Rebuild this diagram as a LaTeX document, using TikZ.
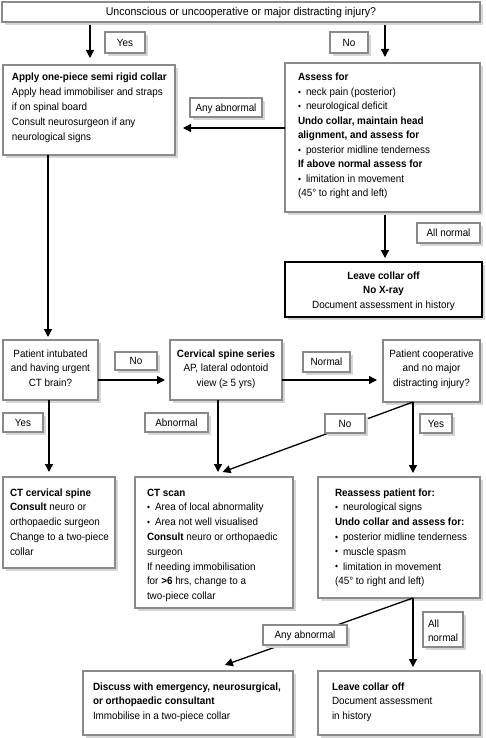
\documentclass[tikz,border=0pt]{standalone}
\usepackage{fontspec}
\setmainfont{Liberation Sans}[FakeStretch=0.94]
\usetikzlibrary{arrows.meta,shadows}
\definecolor{bordergray}{HTML}{8A8A8A}
\definecolor{shadowgray}{HTML}{D6D6D6}
\newcommand\lbox[5]{\begin{minipage}[c][#2][t]{#1}\raggedright\leftskip=#3\relax\rule{0pt}{#4}#5\end{minipage}}
\newcommand\cbox[4]{\begin{minipage}[c][#2][t]{#1}\centering\rule{0pt}{#3}#4\end{minipage}}
\newcommand\bul{\makebox[8pt][l]{\small\raisebox{0.3pt}{•}}}
\begin{document}
\begin{tikzpicture}[x=1pt,y=-1pt,
  every node/.style={font=\fontsize{10.5}{14.8}\selectfont},
  shd/.style={general shadow={fill=shadowgray, shadow xshift=3pt, shadow yshift=-3pt}},
  fbox/.style={draw=bordergray, line width=1.3pt, fill=white, inner sep=0pt, outer sep=0pt, anchor=north west, shd},
  blackbox/.style={fbox, draw=black, line width=2pt},
  lblbase/.style={fbox},
  lbl/.style={fbox, align=center, text height=7.6pt, text depth=0.4pt},
  arr/.style={draw=black, line width=1.3pt, -{Triangle[length=8pt,width=8pt]}}
]
\useasboundingbox (0,0) rectangle (486,738);

% main boxes
\node[fbox] (top) at (2,2) {\cbox{478pt}{20pt}{14pt}{\fontsize{11.3}{14.8}\selectfont Unconscious or uncooperative or major distracting injury?}};

\node[fbox] (collar) at (3,65) {\lbox{172pt}{90pt}{9pt}{16pt}{\textbf{Apply one-piece semi rigid collar}\\
Apply head immobiliser and straps\\
if on spinal board\\
Consult neurosurgeon if any\\
neurological signs}};

\node[fbox] (assess) at (285,63) {\lbox{195pt}{149pt}{13pt}{18pt}{\fontsize{10.5}{14.5}\selectfont\textbf{Assess for}\\
\bul neck pain (posterior)\\
\bul neurological deficit\\
\textbf{Undo collar, maintain head}\\
\textbf{alignment, and assess for}\\
\bul posterior midline tenderness\\
\textbf{If above normal assess for}\\
\bul limitation in movement\\
(45° to right and left)}};

\node[blackbox] (leave1) at (285,262) {\cbox{197pt}{55pt}{17pt}{\fontsize{10.5}{14.5}\selectfont\textbf{Leave collar off}\\
\textbf{No X-ray}\\
Document assessment in history}};

\node[fbox] (intub) at (3,340) {\cbox{95pt}{60pt}{17pt}{Patient intubated\\
and having urgent\\
CT brain?}};

\node[fbox] (cerv) at (170,340) {\cbox{112pt}{60pt}{17pt}{\textbf{Cervical spine series}\\
AP, lateral odontoid\\
view (≥ 5 yrs)}};

\node[fbox] (coop) at (383,340) {\cbox{97pt}{62pt}{17pt}{Patient cooperative\\
and no major\\
distracting injury?}};

\node[fbox] (ctcerv) at (3,477) {\lbox{112pt}{91pt}{7pt}{19pt}{\textbf{CT cervical spine}\\
\textbf{Consult} neuro or\\
orthopaedic surgeon\\
Change to a two-piece\\
collar}};

\node[fbox] (ctscan) at (135,477) {\lbox{158pt}{131pt}{12pt}{19pt}{\textbf{CT scan}\\
\bul Area of local abnormality\\
\bul Area not well visualised\\
\textbf{Consult} neuro or orthopaedic\\
surgeon\\
If needing immobilisation\\
for \textbf{>6} hrs, change to a\\
two-piece collar}};

\node[fbox] (reassess) at (318,477) {\lbox{162pt}{121pt}{17pt}{19pt}{\textbf{Reassess patient for:}\\
\bul neurological signs\\
\textbf{Undo collar and assess for:}\\
\bul posterior midline tenderness\\
\bul muscle spasm\\
\bul limitation in movement\\
(45° to right and left)}};

\node[fbox] (discuss) at (83,671) {\lbox{210pt}{64pt}{10pt}{19pt}{\fontsize{10.5}{14.5}\selectfont\textbf{Discuss with emergency, neurosurgical,}\\
\textbf{or orthopaedic consultant}\\
Immobilise in a two-piece collar}};

\node[fbox] (leave2) at (318,671) {\lbox{162pt}{64pt}{14pt}{19pt}{\fontsize{10.5}{14.5}\selectfont\textbf{Leave collar off}\\
Document assessment\\
in history}};

% connectors
\draw[arr, shorten <=3pt, shorten >=7pt] (top.south -| 90,0) -- (collar.north -| 90,0);
\draw[arr, shorten <=3pt, shorten >=6pt] (top.south -| 385,0) -- (assess.north -| 385,0);
\draw[arr, shorten >=8pt] (assess.west |- 0,128) -- (collar.east |- 0,128);
\draw[arr, shorten <=3pt, shorten >=4pt] (assess.south -| 385,0) -- (leave1.north -| 385,0);
\draw[arr, shorten >=3pt] (collar.south -| 48,0) -- (intub.north -| 48,0);
\draw[arr, shorten >=5pt] (intub.east |- 0,380) -- (cerv.west |- 0,380);
\draw[arr, shorten >=6pt] (cerv.east |- 0,380) -- (coop.west |- 0,380);
\draw[arr, shorten >=5pt] (intub.south -| 49,0) -- (ctcerv.north -| 49,0);
\draw[arr, shorten >=5pt] (cerv.south -| 218,0) -- (ctscan.north -| 218,0);
\draw[arr, shorten >=4pt] (coop.south -| 413,0) -- (reassess.north -| 413,0);
\draw[arr, shorten >=14.5pt] (coop.south -| 413,0) -- (ctscan.north -| 209,0);
\draw[arr, shorten >=4pt] (reassess.south -| 413,0) -- (leave2.north -| 413,0);
\draw[arr, shorten >=17.9pt] (reassess.south -| 413,0) -- (discuss.north -| 208,0);

% labels
\node[lbl, minimum width=40pt, minimum height=21pt] (yes1) at (105,32) {Yes};
\node[lbl, minimum width=38pt, minimum height=21pt] (no1) at (330,32) {No};
\node[lbl, minimum width=72pt, minimum height=19pt] (anyab1) at (190,98) {Any abnormal};
\node[lbl, minimum width=63pt, minimum height=20pt] (allnorm1) at (417,223) {All normal};
\node[lbl, minimum width=42pt, minimum height=18pt] (no2) at (115,352) {No};
\node[lbl, minimum width=47pt, minimum height=20pt] (normal) at (303,352) {Normal};
\node[lbl, minimum width=40pt, minimum height=19pt] (yes2) at (3,413) {Yes};
\node[lbl, minimum width=63pt, minimum height=19pt] (abnormal) at (145,413) {Abnormal};
\node[lbl, minimum width=40pt, minimum height=19pt] (no3) at (325,414) {No};
\node[lbl, minimum width=32pt, minimum height=19pt] (yes3) at (420,414) {Yes};
\node[lbl, minimum width=84pt, minimum height=20pt] (anyab2) at (263,625) {Any abnormal};
\node[lblbase] (allnorm2) at (423,612) {\lbox{40pt}{35pt}{5pt}{15pt}{All\\normal}};
\end{tikzpicture}
\end{document}
